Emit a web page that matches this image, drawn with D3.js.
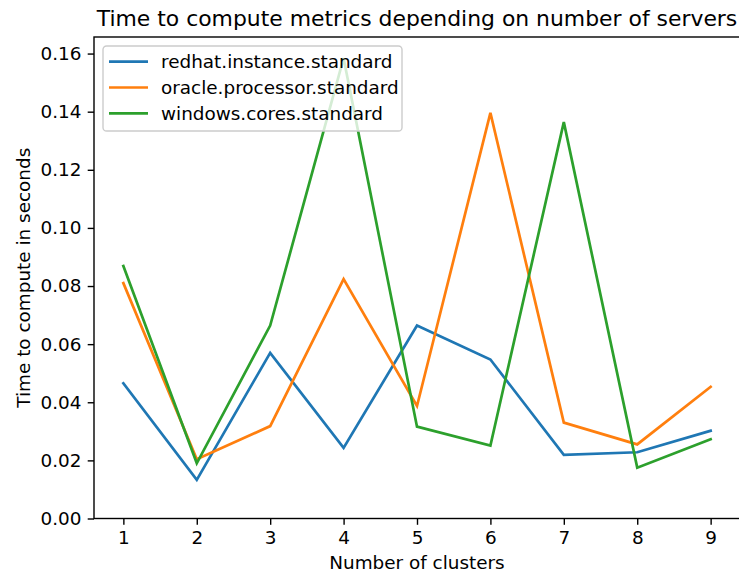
<!DOCTYPE html>
<html>
<head>
<meta charset="utf-8">
<script src="https://cdn.jsdelivr.net/npm/d3@7"></script>
<style>
  html, body { margin: 0; padding: 0; background: #fff; }
  svg { display: block; font-family: "DejaVu Sans", sans-serif; }
</style>
</head>
<body>
<svg id="chart" width="739" height="575"></svg>
<script>
const clusters = [1, 2, 3, 4, 5, 6, 7, 8, 9];
const redhat  = [0.0465, 0.0133, 0.0570, 0.0243, 0.0664, 0.0547, 0.0219, 0.0228, 0.0302];
const oracle  = [0.0810, 0.0204, 0.0318, 0.0824, 0.0387, 0.1396, 0.0330, 0.0255, 0.0453];
const windows = [0.0869, 0.0190, 0.0664, 0.1584, 0.0316, 0.0251, 0.1364, 0.0175, 0.0273];
const seriesNames = ["redhat.instance.standard", "oracle.processor.standard", "windows.cores.standard"];
const seriesColors = ["#1f77b4", "#ff7f0e", "#2ca02c"];
const yTicks = [0, 0.02, 0.04, 0.06, 0.08, 0.10, 0.12, 0.14, 0.16];
const xTicks = [1, 2, 3, 4, 5, 6, 7, 8, 9];

const svg = d3.select("#chart");
const pLeft = 94, pRight = 740, pTop = 37, pBottom = 518.5;
const fs = "18.4px";

const x = d3.scaleLinear().domain([0.6, 9.4]).range([pLeft, pRight]);
const y = d3.scaleLinear().domain([0, 0.1657]).range([pBottom, pTop]);

// Title
svg.append("text")
  .attr("x", (pLeft + pRight) / 2).attr("y", 26)
  .attr("text-anchor", "middle")
  .style("font-size", "21.9px")
  .text("Time to compute metrics depending on number of servers");

// Lines
const data = [redhat, oracle, windows];
const line = d3.line().x((d, i) => x(clusters[i])).y(d => y(d));
data.forEach((s, k) => {
  svg.append("path")
    .datum(s)
    .attr("fill", "none")
    .attr("stroke", seriesColors[k])
    .attr("stroke-width", 2.7)
    .attr("stroke-linejoin", "miter")
    .attr("stroke-linecap", "square")
    .attr("d", line);
});

// Axes
const xAxis = d3.axisBottom(x).tickValues(xTicks).tickFormat(d3.format("d"))
  .tickSize(6.3).tickPadding(6.3);
const yAxis = d3.axisLeft(y).tickValues(yTicks).tickFormat(d3.format(".2f"))
  .tickSize(6.3).tickPadding(6.3);

const gx = svg.append("g").attr("transform", `translate(0,${pBottom})`).call(xAxis);
const gy = svg.append("g").attr("transform", `translate(${pLeft},0)`).call(yAxis);
[gx, gy].forEach(g => {
  g.select(".domain").remove();
  g.selectAll(".tick line").attr("stroke", "#000").attr("stroke-width", 1.4);
  g.selectAll(".tick text").attr("fill", "#000").style("font-size", fs)
    .style("font-family", "DejaVu Sans, sans-serif");
});

// Spines
svg.append("rect")
  .attr("x", pLeft).attr("y", pTop)
  .attr("width", pRight - pLeft).attr("height", pBottom - pTop)
  .attr("fill", "none").attr("stroke", "#000").attr("stroke-width", 1.4);

// Axis labels
svg.append("text")
  .attr("x", (pLeft + pRight) / 2).attr("y", 569)
  .attr("text-anchor", "middle")
  .style("font-size", fs)
  .text("Number of clusters");
svg.append("text")
  .attr("transform", `translate(30,${(pTop + pBottom) / 2}) rotate(-90)`)
  .attr("text-anchor", "middle")
  .style("font-size", fs)
  .text("Time to compute in seconds");

// Legend
const lg = svg.append("g");
lg.append("rect")
  .attr("x", 103).attr("y", 46).attr("width", 299).attr("height", 85)
  .attr("rx", 3.6).attr("ry", 3.6)
  .attr("fill", "#fff").attr("fill-opacity", 0.8)
  .attr("stroke", "#cccccc").attr("stroke-width", 1.4);
seriesNames.forEach((name, k) => {
  const yy = 61.7 + k * 25.8;
  lg.append("line")
    .attr("x1", 109).attr("x2", 148).attr("y1", yy).attr("y2", yy)
    .attr("stroke", seriesColors[k]).attr("stroke-width", 2.7);
  lg.append("text")
    .attr("x", 161).attr("y", yy + 6.6)
    .style("font-size", fs)
    .text(name);
});
</script>
</body>
</html>
